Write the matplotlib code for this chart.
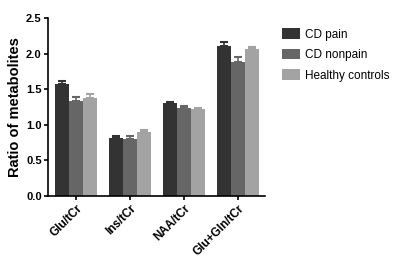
import matplotlib
matplotlib.use("Agg")
import matplotlib.pyplot as plt
import numpy as np

plt.rcParams["font.family"] = ["Liberation Sans", "DejaVu Sans"]

categories = ["Glu/tCr", "Ins/tCr", "NAA/tCr", "Glu+Gln/tCr"]
series_names = ["CD pain", "CD nonpain", "Healthy controls"]
cd_pain = [1.57, 0.82, 1.30, 2.11]
cd_nonpain = [1.34, 0.80, 1.24, 1.89]
healthy = [1.38, 0.90, 1.22, 2.06]
err_pain = [0.04, 0.02, 0.02, 0.05]
err_nonpain = [0.05, 0.04, 0.02, 0.06]
err_healthy = [0.05, 0.03, 0.02, 0.04]
colors = ["#333333", "#666666", "#a3a3a3"]

fig = plt.figure(figsize=(4, 2.7), dpi=100)
ax = fig.add_axes([0.12, 0.274, 0.5425, 0.659])

x = np.arange(len(categories))
w = 0.26
for i, (vals, errs) in enumerate(zip([cd_pain, cd_nonpain, healthy],
                                     [err_pain, err_nonpain, err_healthy])):
    pos = x + (i - 1) * w
    ax.bar(pos, vals, w, color=colors[i], label=series_names[i], zorder=2)
    ax.errorbar(pos, vals, yerr=[np.zeros(len(errs)), errs], fmt="none",
                ecolor=colors[i], elinewidth=1.2, capsize=3, capthick=1.5, zorder=3)

ax.set_xlim(-0.52, 3.5)
ax.set_ylim(0, 2.5)
ax.set_yticks([0.0, 0.5, 1.0, 1.5, 2.0, 2.5])
ax.set_yticklabels(["0.0", "0.5", "1.0", "1.5", "2.0", "2.5"], fontsize=8, fontweight="bold")
ax.set_xticks(x)
ax.set_xticklabels(categories, rotation=45, ha="right", rotation_mode="anchor",
                   fontsize=8.5, fontweight="bold")
ax.set_ylabel("Ratio of metabolites", fontsize=10.5, fontweight="bold", labelpad=3)
for s in ["top", "right"]:
    ax.spines[s].set_visible(False)
for s in ["left", "bottom"]:
    ax.spines[s].set_linewidth(1.2)
ax.tick_params(axis="both", direction="out", width=1.2, length=3, pad=1.5)

handles, labels = ax.get_legend_handles_labels()
fig.legend(handles, labels, loc="upper left", bbox_to_anchor=(0.678, 0.935),
           bbox_transform=fig.transFigure, frameon=False, fontsize=8.5,
           handlelength=1.5, handleheight=1.0, handletextpad=0.5, labelspacing=0.7)

fig.savefig("out.png", dpi=100)
